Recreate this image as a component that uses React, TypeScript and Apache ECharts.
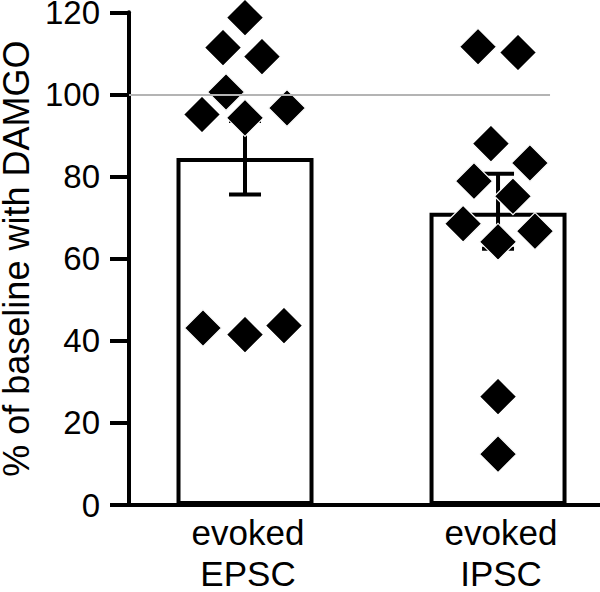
import React, { useEffect, useRef } from "react";
import * as echarts from "echarts";

// ---- data ----
const categories = ["evoked\nEPSC", "evoked\nIPSC"];
const categoryPos = [1, 2];
const barMeans = [84.5, 71.2];
const errLow = [75.6, 62.4];
const errHigh = [93.5, 80.7];
const epscX = [1.0, 0.913, 1.067, 0.925, 0.83, 1.0, 1.166, 0.834, 1.0, 1.154];
const epscY = [118.7, 111.4, 109.2, 100.6, 95.1, 94.3, 96.7, 43.1, 41.5, 43.7];
const ipscX = [1.921, 2.079, 1.972, 2.126, 1.905, 2.059, 1.862, 2.0, 2.146, 2.0, 2.0];
const ipscY = [111.6, 110.2, 88.0, 83.3, 78.9, 75.2, 68.5, 64.1, 66.7, 26.4, 12.4];
const yTicks = [0, 20, 40, 60, 80, 100, 120];
const referenceLevel = 100;

const X_MIN = 0.5415;
const X_MAX = 2.403;
const REF_END = 2.2055;
const FONT = "'Liberation Sans', Arial, Helvetica, sans-serif";

export default function App() {
  const ref = useRef<HTMLDivElement>(null);
  useEffect(() => {
    if (!ref.current) return;
    const chart = echarts.init(ref.current, null, { renderer: "svg" });
    const scatterData = [
      ...epscX.map((x, i) => [x, epscY[i]]),
      ...ipscX.map((x, i) => [x, ipscY[i]]),
    ];
    chart.setOption({
      animation: false,
      backgroundColor: "#ffffff",
      grid: {
        left: 129,
        right: 0,
        top: 12.3,
        bottom: 87,
        containLabel: false,
        outerBoundsMode: "none",
      },
      xAxis: {
        type: "value",
        min: X_MIN,
        max: X_MAX,
        splitLine: { show: false },
        axisLine: { show: true, lineStyle: { color: "#000", width: 4 } },
        axisTick: { show: false },
        axisLabel: {
          customValues: categoryPos,
          formatter: (v: number) => {
            const i = categoryPos.findIndex((p) => Math.abs(p - v) < 1e-6);
            return i >= 0 ? categories[i] : "";
          },
          color: "#000",
          fontSize: 35,
          lineHeight: 41,
          fontFamily: FONT,
          margin: 7,
          align: "center",
          padding: [0, 0, 0, 6],
        },
      },
      yAxis: {
        type: "value",
        min: 0,
        max: 120,
        interval: 20,
        splitLine: { show: false },
        axisLine: { show: true, lineStyle: { color: "#000", width: 4 } },
        axisTick: { show: true, length: 19, lineStyle: { color: "#000", width: 4 } },
        axisLabel: {
          color: "#000",
          fontSize: 33,
          fontFamily: FONT,
          margin: 29,
          formatter: (v: number) => (yTicks.includes(v) ? String(v) : ""),
        },
        name: "% of baseline with DAMGO",
        nameLocation: "middle",
        nameGap: 91,
        nameTextStyle: { color: "#000", fontSize: 36, fontFamily: FONT },
      },
      series: [
        {
          type: "bar",
          data: categoryPos.map((x, i) => [x, barMeans[i]]),
          barWidth: 137,
          itemStyle: { color: "#ffffff", borderColor: "#000", borderWidth: 4 },
          z: 1,
          markLine: {
            silent: true,
            symbol: "none",
            label: { show: false },
            lineStyle: { color: "#b4b4b4", width: 2, type: "solid" },
            data: [[{ coord: [X_MIN, referenceLevel] }, { coord: [REF_END, referenceLevel] }]],
          },
        },
        {
          type: "custom",
          z: 2,
          data: categoryPos.map((x, i) => [x, errLow[i], errHigh[i]]),
          renderItem: (params: any, api: any) => {
            const x = api.value(0);
            const lo = api.coord([x, api.value(1)]);
            const hi = api.coord([x, api.value(2)]);
            const half = 16;
            const style = { stroke: "#000", lineWidth: 4 };
            return {
              type: "group",
              children: [
                { type: "line", shape: { x1: lo[0], y1: lo[1], x2: hi[0], y2: hi[1] }, style },
                { type: "line", shape: { x1: lo[0] - half, y1: lo[1], x2: lo[0] + half, y2: lo[1] }, style },
                { type: "line", shape: { x1: hi[0] - half, y1: hi[1], x2: hi[0] + half, y2: hi[1] }, style },
              ],
            };
          },
        },
        {
          type: "scatter",
          z: 3,
          symbol: "diamond",
          symbolSize: 37,
          data: scatterData,
          itemStyle: { color: "#000", borderColor: "#fff", borderWidth: 1.2, opacity: 1 },
        },
      ],
    });
    return () => chart.dispose();
  }, []);
  return (
    <div
      ref={ref}
      style={{ position: "fixed", left: 0, top: 0, width: 600, height: 592, background: "#fff" }}
    />
  );
}
